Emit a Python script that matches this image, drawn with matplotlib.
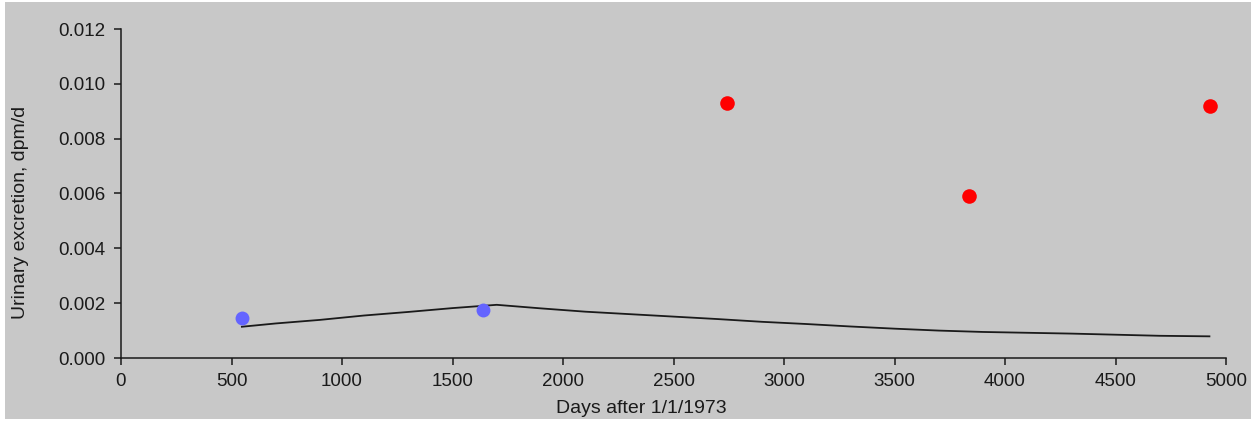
import matplotlib
matplotlib.use("Agg")
import matplotlib.pyplot as plt
from matplotlib.patches import Rectangle
from matplotlib.ticker import FormatStrFormatter

# Measured data (blue = earlier samples, red = later samples)
blue_days = [546, 1640]
blue_vals = [0.00145, 0.00175]
red_days = [2743, 3835, 4928]
red_vals = [0.00931, 0.00592, 0.00919]

# Model curve
curve_days = [547, 700, 900, 1100, 1300, 1500, 1700, 1900, 2100, 2300, 2500,
              2700, 2900, 3100, 3300, 3500, 3700, 3900, 4100, 4300, 4500, 4700, 4925]
curve_vals = [0.00114, 0.00126, 0.00139, 0.00155, 0.00168, 0.00182, 0.00194,
              0.00181, 0.00169, 0.00160, 0.00151, 0.00142, 0.00132, 0.00124,
              0.00115, 0.00107, 0.00100, 0.00095, 0.00092, 0.00089, 0.00085,
              0.00081, 0.00079]

x_ticks = [0, 500, 1000, 1500, 2000, 2500, 3000, 3500, 4000, 4500, 5000]
y_ticks = [0.000, 0.002, 0.004, 0.006, 0.008, 0.010, 0.012]
x_label = "Days after 1/1/1973"
y_label = "Urinary excretion, dpm/d"

plt.rcParams['font.family'] = ['Liberation Sans', 'DejaVu Sans']
W, H = 1251, 423
fig = plt.figure(figsize=(W / 100, H / 100), dpi=100, facecolor='white')
fig.patches.append(Rectangle((5 / W, 1 - 419 / H), (W - 5) / W, 417 / H,
                             transform=fig.transFigure, facecolor='#c8c8c8',
                             edgecolor='none', zorder=-10))

ax = fig.add_axes([121 / W, 1 - 358 / H, (1226 - 121) / W, (358 - 29) / H])
ax.set_zorder(1)
ax.set_facecolor('none')
ax.plot(curve_days, curve_vals, color='#1a1a1a', lw=1.3, zorder=2)
ax.plot(blue_days, blue_vals, 'o', color='#6464ff', ms=10, mew=0, zorder=3)
ax.plot(red_days, red_vals, 'o', color='#ff0000', ms=10.5, mew=0, zorder=3)

ax.set_xlim(0, 5000)
ax.set_ylim(0, 0.012)
ax.set_xticks(x_ticks)
ax.set_yticks(y_ticks)
ax.yaxis.set_major_formatter(FormatStrFormatter('%.3f'))
for s in ['top', 'right']:
    ax.spines[s].set_visible(False)
for s in ['left', 'bottom']:
    ax.spines[s].set_linewidth(1.1)
    ax.spines[s].set_color('#1a1a1a')
ax.tick_params(direction='out', length=5, width=1.1, color='#1a1a1a',
               labelsize=13.5, labelcolor='#1a1a1a', pad=6)

fig.text(641 / W, 1 - 408 / H, x_label, ha='center', va='center',
         fontsize=14, color='#1a1a1a', zorder=5)
fig.text(21 / W, 1 - 212 / H, y_label, ha='center', va='center',
         rotation=90, fontsize=14, color='#1a1a1a', zorder=5)

fig.savefig('out.png', dpi=100, facecolor='white')
